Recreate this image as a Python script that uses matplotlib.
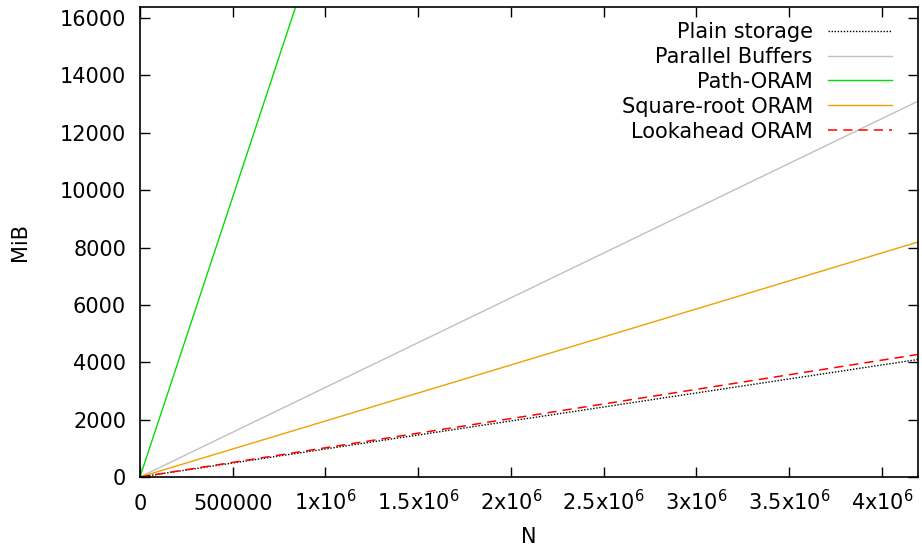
import matplotlib
matplotlib.use("Agg")
import matplotlib.pyplot as plt
import numpy as np

N = [0, 1048576, 2097152, 4194304]
plain = [0, 1024, 2048, 4096]
parallel = [0, 3275, 6550, 13100]
path_oram = [0, 20480, 40960, 81920]
sqrt_oram = [0, 2048, 4096, 8192]
lookahead = [0, 1068, 2136, 4272]

xticks = [0, 500000, 1000000, 1500000, 2000000, 2500000, 3000000, 3500000, 4000000]
xticklabels = ["0", "500000", r"1x10$^{6}$", r"1.5x10$^{6}$", r"2x10$^{6}$",
               r"2.5x10$^{6}$", r"3x10$^{6}$", r"3.5x10$^{6}$", r"4x10$^{6}$"]
yticks = [0, 2000, 4000, 6000, 8000, 10000, 12000, 14000, 16000]

plt.rcParams['font.family'] = ['DejaVu Sans']
plt.rcParams['mathtext.fontset'] = 'dejavusans'

FS = 15
fig = plt.figure(figsize=(9.22, 5.48), dpi=100)
ax = fig.add_axes([140/922, 1-477/548, (918-140)/922, (477-7)/548])

ax.plot(N, plain, color='black', linestyle=(0, (1, 1.2)), linewidth=1.0, label='Plain storage')
ax.plot(N, parallel, color='#c0c0c0', linewidth=1.0, label='Parallel Buffers')
ax.plot(N, path_oram, color='#00e000', linewidth=1.0, label='Path-ORAM')
ax.plot(N, sqrt_oram, color='#f0a000', linewidth=1.0, label='Square-root ORAM')
ax.plot(N, lookahead, color='#ff0000', linestyle=(0, (6, 4)), linewidth=1.1, label='Lookahead ORAM')

ax.set_xlim(0, 4194304)
ax.set_ylim(0, 16384)
ax.set_xticks(xticks)
ax.set_xticklabels(xticklabels)
ax.set_yticks(yticks)
ax.tick_params(direction='in', length=7, width=1, top=True, right=True, labelsize=FS)
ax.tick_params(axis='x', pad=23.8)
ax.tick_params(axis='y', pad=10)
for t in ax.xaxis.get_major_ticks():
    t.label1.set_verticalalignment('baseline')
for s in ax.spines.values():
    s.set_linewidth(1.2)

ax.set_xlabel('N', fontsize=FS, labelpad=9)
ax.set_ylabel('MiB', fontsize=FS, labelpad=21.5)

leg = ax.legend(loc='upper right', frameon=False, markerfirst=False, fontsize=FS,
                handlelength=3.08, handletextpad=0.72, labelspacing=0.235,
                borderaxespad=0, borderpad=0,
                bbox_to_anchor=(892/922, 1-22/548), bbox_transform=fig.transFigure)
for t in leg.get_texts():
    t.set_ha('right')

fig.savefig('out.png', dpi=100)
